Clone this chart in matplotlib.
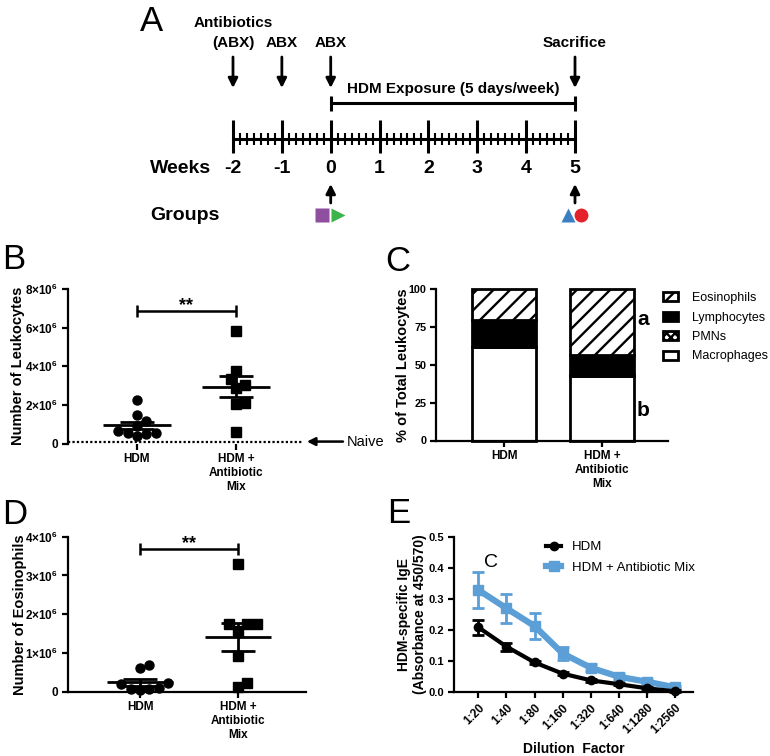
import numpy as np
import matplotlib

matplotlib.use("Agg")
import matplotlib.pyplot as plt
from matplotlib.patches import Patch
from matplotlib.lines import Line2D

plt.rcParams["font.family"] = ["Liberation Sans", "DejaVu Sans"]
plt.rcParams["mathtext.fontset"] = "custom"
plt.rcParams["mathtext.rm"] = "Liberation Sans:bold"
plt.rcParams["mathtext.bf"] = "Liberation Sans:bold"
plt.rcParams["hatch.linewidth"] = 1.7

# ---------------- data ----------------
# panel A: timeline
weeks = [-2, -1, 0, 1, 2, 3, 4, 5]
days_per_week = 7
abx_weeks = [-2, -1, 0]
abx_labels = ["(ABX)", "ABX", "ABX"]
hdm_start, hdm_end = 0, 5
sacrifice_week = 5
group_weeks = [0, 0, 5, 5]

# panels B-D: groups
groups = ["HDM", "HDM +\nAntibiotic\nMix"]
leuk_hdm = [2.24, 1.46, 1.18, 0.92, 0.65, 0.53, 0.41, 0.51, 0.53]   # x1e6
leuk_abx = [5.81, 3.73, 3.33, 3.04, 2.87, 2.12, 2.07, 0.61]
naive_leuk = 0.1
eos_hdm = [0.60, 0.68, 0.22, 0.19, 0.09, 0.05, 0.06, 0.07]          # x1e6
eos_abx = [3.29, 1.75, 1.75, 1.74, 1.57, 0.93, 0.11, 0.22]

cell_types = ["Macrophages", "PMNs", "Lymphocytes", "Eosinophils"]
pct_hdm = [61.6, 0.4, 17.6, 20.4]
pct_abx = [42.7, 0.4, 13.4, 43.5]

# panel E: IgE ELISA
dilutions = ["1:20", "1:40", "1:80", "1:160", "1:320", "1:640", "1:1280", "1:2560"]
ige_hdm = [0.209, 0.147, 0.096, 0.060, 0.0385, 0.026, 0.013, 0.003]
ige_hdm_err = [0.024, 0.013, 0.005, 0.004, 0.004, 0.004, 0.004, 0.003]
ige_abx = [0.329, 0.270, 0.213, 0.125, 0.079, 0.050, 0.034, 0.016]
ige_abx_err = [0.058, 0.047, 0.041, 0.021, 0.012, 0.008, 0.007, 0.005]

# ---------------- layout helpers ----------------
W, H = 770, 756
fig = plt.figure(figsize=(W / 100, H / 100), dpi=100)


def px_axes(left, top, right, bottom):
    return fig.add_axes([left / W, 1 - bottom / H, (right - left) / W, (bottom - top) / H])


def prism(ax, ysize=8.5):
    for s in ["top", "right"]:
        ax.spines[s].set_visible(False)
    for s in ["left", "bottom"]:
        ax.spines[s].set_linewidth(1.6)
    ax.tick_params(width=1.6, length=4, labelsize=8.5, pad=3)
    ax.tick_params(axis="y", labelsize=ysize)


def bold_ticks(ax):
    plt.setp(ax.get_xticklabels(), fontweight="bold")
    plt.setp(ax.get_yticklabels(), fontweight="bold")


def swarm_offsets(ax, xc, vals, size_px=9.4):
    tr = ax.transData
    px_per_x = tr.transform((1, 0))[0] - tr.transform((0, 0))[0]
    ypx = np.array([tr.transform((xc, v))[1] for v in vals])
    offs = np.zeros(len(vals))
    placed = []
    for i in np.argsort(vals):
        k = 0
        while True:
            cands = [0.0] if k == 0 else [k * 0.5 * size_px, -k * 0.5 * size_px]
            ok = None
            for c in cands:
                if all(np.hypot(c - px, ypx[i] - py) >= size_px * 0.95 for px, py in placed):
                    ok = c
                    break
            if ok is not None:
                offs[i] = ok
                placed.append((ok, ypx[i]))
                break
            k += 1
    return offs / px_per_x


def dot_panel(ax, hdm, abx, scale):
    for xc, vals, mk in [(0, hdm, "o"), (1, abx, "s")]:
        vals = np.array(vals) * scale
        off = swarm_offsets(ax, xc, vals)
        ax.plot(xc + off, vals, mk, color="black", ms=6.5, ls="none", clip_on=False, zorder=3)
        m = vals.mean()
        se = vals.std(ddof=1) / np.sqrt(len(vals))
        ax.hlines(m, xc - 0.34, xc + 0.34, color="black", lw=2, zorder=4)
        ax.hlines([m - se, m + se], xc - 0.17, xc + 0.17, color="black", lw=2, zorder=4)
        ax.vlines(xc, m - se, m + se, color="black", lw=2, zorder=4)


def sig_bar(ax, y, h):
    ax.hlines(y, 0, 1, color="black", lw=1.8, clip_on=False)
    ax.vlines([0, 1], y - h, y + h, color="black", lw=1.8, clip_on=False)
    ax.annotate("**", (0.5, y), xytext=(0, 1), textcoords="offset points",
                ha="center", va="baseline", fontsize=13, fontweight="bold",
                annotation_clip=False)


def sci_labels(ticks):
    out = []
    for t in ticks:
        out.append("0" if t == 0 else r"$%d{\times}10^{6}$" % round(t / 1e6))
    return out


# ---------------- panel A ----------------
axA = px_axes(0, 0, W, 235)
wk_px = (575 - 233) / 7
axA.set_xlim(-2 - 233 / wk_px, 5 + (W - 575) / wk_px)
axA.set_ylim(235, 0)
axA.axis("off")

axA.plot([weeks[0], weeks[-1]], [139, 139], color="black", lw=2.2)
axA.vlines(weeks, 120, 153, color="black", lw=2.2)
minor = [w + d / days_per_week for w in weeks[:-1] for d in range(1, days_per_week)]
axA.vlines(minor, 133, 145, color="black", lw=1.5)
for w in weeks:
    axA.text(w, 168, str(w), ha="center", va="center", fontsize=14, fontweight="bold")
axA.text(-2 - 83 / wk_px, 168, "Weeks", ha="left", va="center", fontsize=14, fontweight="bold")
axA.text(-2 - 83 / wk_px, 215, "Groups", ha="left", va="center", fontsize=14, fontweight="bold")

axA.text(abx_weeks[0], 23, "Antibiotics", ha="center", va="center", fontsize=11, fontweight="bold")
for w, lab in zip(abx_weeks, abx_labels):
    axA.text(w, 43, lab, ha="center", va="center", fontsize=11, fontweight="bold")
axA.text(sacrifice_week, 43, "Sacrifice", ha="center", va="center", fontsize=11, fontweight="bold")

arrow = dict(arrowstyle="-|>", lw=2, color="black", mutation_scale=14, shrinkA=0, shrinkB=0)
for w in abx_weeks + [sacrifice_week]:
    axA.annotate("", xy=(w, 88), xytext=(w, 57), arrowprops=arrow)
for w in [hdm_start, sacrifice_week]:
    axA.annotate("", xy=(w, 184), xytext=(w, 203), arrowprops=arrow)

axA.plot([hdm_start, hdm_end], [103, 103], color="black", lw=2.2)
axA.vlines([hdm_start, hdm_end], 96, 111, color="black", lw=2.2)
axA.text((hdm_start + hdm_end) / 2, 89, "HDM Exposure (5 days/week)", ha="center", va="center",
         fontsize=11, fontweight="bold")

g_off = [-0.18, 0.15, -0.15, 0.13]
g_mark = ["s", ">", "^", "o"]
g_col = ["#8e4f9f", "#3cb44a", "#3a7fc2", "#e3222b"]
for w, o, mk, c in zip(group_weeks, g_off, g_mark, g_col):
    axA.plot(w + o, 215, mk, color=c, ms=10, mec="none")

# ---------------- panel B ----------------
axB = px_axes(68, 289, 302, 443.5)
prism(axB)
axB.set_xlim(-0.697, 1.667)
axB.set_ylim(0, 8e6)
axB.spines["bottom"].set_visible(False)
dot_panel(axB, leuk_hdm, leuk_abx, 1e6)
axB.axhline(naive_leuk * 1e6, color="black", lw=1.6, ls=(0, (1, 1)))
yt = [0, 2e6, 4e6, 6e6, 8e6]
axB.set_yticks(yt)
axB.set_yticklabels(sci_labels(yt))
axB.set_xticks([0, 1])
axB.set_xticklabels(groups)
bold_ticks(axB)
axB.set_ylabel("Number of Leukocytes", fontsize=10.5, fontweight="bold")
axB.yaxis.set_label_coords(-0.184, 0.5)
sig_bar(axB, 6.86e6, 0.3e6)
tb = axB.get_yaxis_transform()
axB.annotate("", xy=(1.021, naive_leuk * 1e6), xycoords=tb,
             xytext=(1.175, naive_leuk * 1e6), textcoords=tb,
             arrowprops=dict(arrowstyle="-|>", lw=1.8, color="black",
                             mutation_scale=12, shrinkA=0, shrinkB=0))
axB.text(1.19, naive_leuk * 1e6, "Naive", transform=tb, ha="left", va="center", fontsize=10.5)

# ---------------- panel C ----------------
axC = px_axes(436, 289, 668, 440.5)
prism(axC, ysize=7.8)
axC.set_xlim(-0.694, 1.673)
axC.set_ylim(0, 100)
styles = {
    "Macrophages": dict(facecolor="white", hatch=None),
    "PMNs": dict(facecolor="white", hatch="xxxx"),
    "Lymphocytes": dict(facecolor="black", hatch=None),
    "Eosinophils": dict(facecolor="white", hatch="//"),
}
bottom = np.zeros(2)
for i, ct in enumerate(cell_types):
    vals = np.array([pct_hdm[i], pct_abx[i]])
    axC.bar([0, 1], vals, bottom=bottom, width=0.65, edgecolor="black", linewidth=2,
            clip_on=False, **styles[ct])
    bottom += vals
axC.set_yticks([0, 25, 50, 75, 100])
axC.set_xticks([0, 1])
axC.set_xticklabels(groups)
bold_ticks(axC)
axC.set_ylabel("% of Total Leukocytes", fontsize=10.5, fontweight="bold")
axC.yaxis.set_label_coords(-0.11, 0.5)
axC.text(1.418, 80, "a", ha="center", va="center", fontsize=15, fontweight="bold")
axC.text(1.418, 20, "b", ha="center", va="center", fontsize=15, fontweight="bold")
handles = [Patch(edgecolor="black", linewidth=2, label=ct, **styles[ct]) for ct in cell_types[::-1]]
axC.legend(handles=handles, loc="upper left", bbox_to_anchor=(663 / W, 1 - 292 / H),
           bbox_transform=fig.transFigure, frameon=False, fontsize=9, borderpad=0,
           borderaxespad=0, handlelength=1.2, handleheight=0.7, handletextpad=1.15,
           labelspacing=0.6)

# ---------------- panel D ----------------
axD = px_axes(68, 536.7, 306, 691.7)
prism(axD)
axD.set_xlim(-0.735, 1.694)
axD.set_ylim(0, 4e6)
dot_panel(axD, eos_hdm, eos_abx, 1e6)
yt = [0, 1e6, 2e6, 3e6, 4e6]
axD.set_yticks(yt)
axD.set_yticklabels(sci_labels(yt))
axD.set_xticks([0, 1])
axD.set_xticklabels(groups)
bold_ticks(axD)
axD.set_ylabel("Number of Eosinophils", fontsize=10.5, fontweight="bold")
axD.yaxis.set_label_coords(-0.172, 0.5)
sig_bar(axD, 3.68e6, 0.16e6)

# ---------------- panel E ----------------
axE = px_axes(454, 536.7, 693, 692.3)
prism(axE, ysize=8)
x = np.arange(len(dilutions))
axE.set_xlim(-0.865, 7.64)
axE.set_ylim(0, 0.5)
blue = "#5b9fd6"
axE.errorbar(x, ige_hdm, yerr=ige_hdm_err, color="black", lw=3, marker="o", ms=6,
             capsize=4, elinewidth=2, capthick=2, clip_on=False, zorder=4)
axE.errorbar(x, ige_abx, yerr=ige_abx_err, color=blue, lw=4.5, marker="s", ms=6.5,
             capsize=4, elinewidth=2, capthick=2, clip_on=False, zorder=3)
axE.set_yticks([0, 0.1, 0.2, 0.3, 0.4, 0.5])
axE.set_yticklabels(["0.0", "0.1", "0.2", "0.3", "0.4", "0.5"])
axE.set_xticks(x)
axE.set_xticklabels(dilutions, rotation=45, ha="right", rotation_mode="anchor")
bold_ticks(axE)
axE.set_ylabel("HDM-specific IgE\n(Absorbance at 450/570)", fontsize=10, fontweight="bold",
               linespacing=1.15)
axE.yaxis.set_label_coords(-0.113, 0.5)
axE.set_xlabel("Dilution  Factor", fontsize=10, fontweight="bold")
axE.xaxis.set_label_coords(0.5, -0.319)
axE.xaxis.label.set_va("top")
axE.text(0.45, 0.416, "C", ha="center", va="center", fontsize=14)
e_handles = [
    Line2D([], [], color="black", lw=3, marker="o", ms=6, label="HDM"),
    Line2D([], [], color=blue, lw=4.5, marker="s", ms=6.5, label="HDM + Antibiotic Mix"),
]
axE.legend(handles=e_handles, loc="upper left", bbox_to_anchor=(546 / W, 1 - 541 / H),
           bbox_transform=fig.transFigure, frameon=False, fontsize=9.5, borderpad=0,
           borderaxespad=0, handlelength=1.15, handletextpad=0.8, labelspacing=0.65)

# ---------------- panel letters ----------------
for lab, lx, ly in [("A", 140, 5), ("B", 2, 243), ("C", 385, 245), ("D", 2, 498), ("E", 387, 497)]:
    fig.text(lx / W, 1 - ly / H, lab, ha="left", va="top", fontsize=25)

fig.savefig("out.png", dpi=100)
plt.close(fig)
